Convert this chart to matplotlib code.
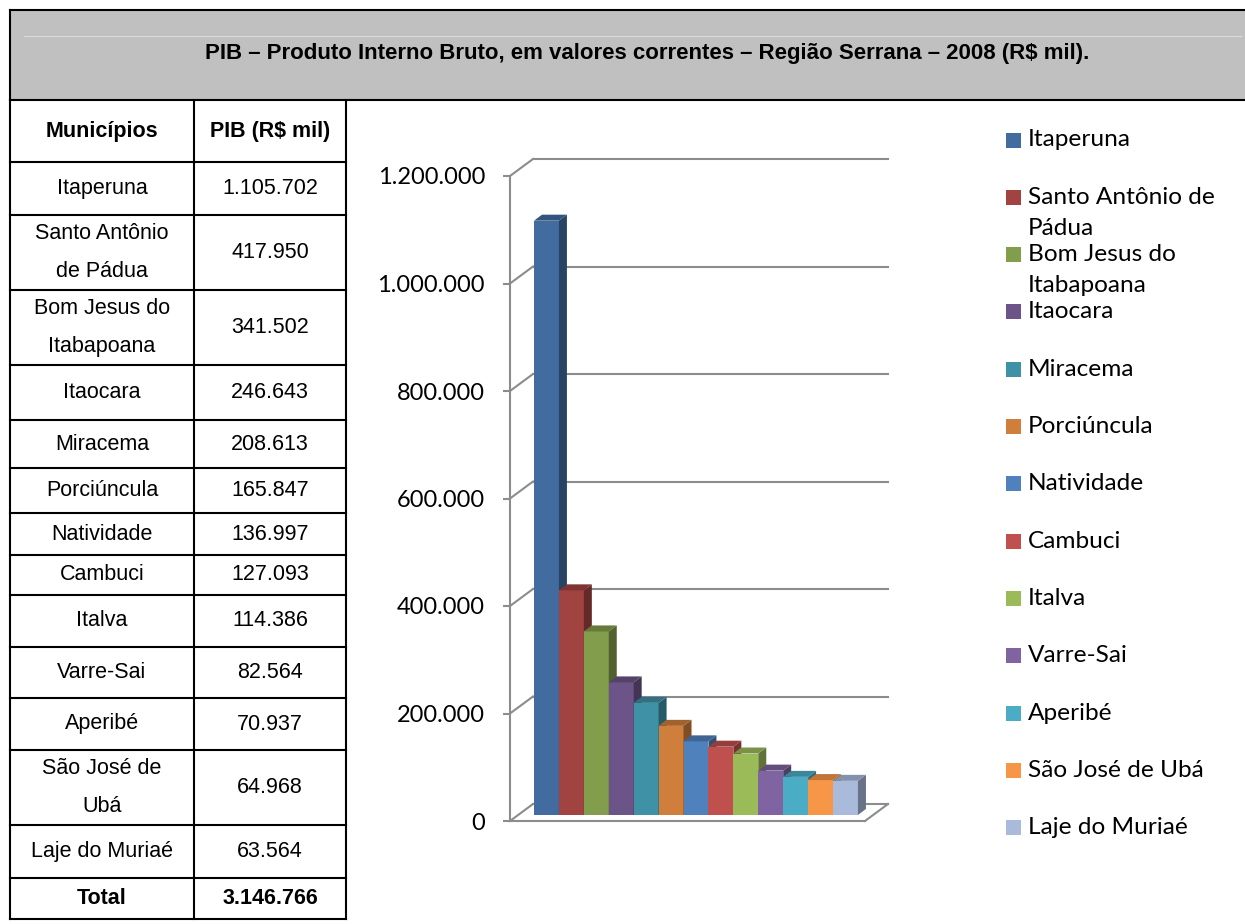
import textwrap

import matplotlib
matplotlib.use("Agg")
import matplotlib.pyplot as plt
import matplotlib.transforms as mtransforms
from matplotlib.lines import Line2D
from matplotlib.patches import Polygon, Rectangle
from matplotlib.ticker import FuncFormatter
from matplotlib.colors import to_rgb

# ---------------------------------------------------------------- data
municipios = [
    "Itaperuna", "Santo Antônio de Pádua", "Bom Jesus do Itabapoana",
    "Itaocara", "Miracema", "Porciúncula", "Natividade", "Cambuci",
    "Italva", "Varre-Sai", "Aperibé", "São José de Ubá", "Laje do Muriaé",
]
pib_mil = [
    1105702, 417950, 341502, 246643, 208613, 165847, 136997,
    127093, 114386, 82564, 70937, 64968, 63564,
]
y_ticks = [0, 200000, 400000, 600000, 800000, 1000000, 1200000]
bar_colors = [
    "#426C9F", "#A14341", "#829D4B", "#6C5488", "#3F91A6", "#CF7E3B",
    "#4F81BD", "#C0504D", "#9BBB59", "#8064A2", "#4BACC6", "#F79646",
    "#A9BADB",
]
title = "PIB – Produto Interno Bruto, em valores correntes – Região Serrana – 2008 (R$ mil)."
col_headers = ["Municípios", "PIB (R$ mil)"]


def fmt_br(v):
    return f"{int(round(v)):,}".replace(",", ".")


# ---------------------------------------------------------------- figure
W, H = 1245, 924
fig = plt.figure(figsize=(W / 100, H / 100), dpi=100)
fig.patch.set_facecolor("white")

# pixel coordinates measured from the top-left corner
pix = mtransforms.Affine2D().scale(1 / W, -1 / H).translate(0, 1) + fig.transFigure

TABLE_FONT = ["Liberation Sans", "DejaVu Sans"]
CHART_FONT = ["Lato", "DejaVu Sans"]


def hline(y, x0, x1, lw=1.5, color="black"):
    fig.add_artist(Line2D([x0, x1], [y, y], transform=pix, lw=lw, color=color))


def vline(x, y0, y1, lw=1.5, color="black"):
    fig.add_artist(Line2D([x, x], [y0, y1], transform=pix, lw=lw, color=color))


# title band
fig.add_artist(Rectangle((10, 10), W - 10, 90, transform=pix,
                         facecolor="#C0C0C0", edgecolor="none"))
hline(36, 24, W - 4, lw=0.8, color="#DCDCDC")
hline(10, 10, W)
hline(100, 10, W)
vline(10, 10, 100)
fig.text(647, 53, title, transform=pix, ha="center", va="center",
         fontsize=16, fontweight="bold", family=TABLE_FONT)

# ---------------------------------------------------------------- table
col_x = [10, 194, 346]
row_y = [100, 162, 215, 290, 365, 420, 468, 513, 555, 595, 647, 698,
         750, 825, 878, 919]
for x in col_x:
    vline(x, 100, row_y[-1])
for y in row_y[1:]:
    hline(y, col_x[0], col_x[-1])

c1 = (col_x[0] + col_x[1]) / 2
c2 = (col_x[1] + col_x[2]) / 2
TFS = 15.5
LINE_GAP = 38


def cell_text(xc, y0, y1, s, bold=False):
    lines = textwrap.wrap(s, 14) or [s]
    yc = (y0 + y1) / 2
    start = yc - LINE_GAP * (len(lines) - 1) / 2
    for k, ln in enumerate(lines):
        fig.text(xc, start + k * LINE_GAP, ln, transform=pix, ha="center",
                 va="center", fontsize=TFS, family=TABLE_FONT,
                 fontweight="bold" if bold else "normal")


cell_text(c1, row_y[0], row_y[1], col_headers[0], bold=True)
cell_text(c2, row_y[0], row_y[1], col_headers[1], bold=True)
for i, (name, val) in enumerate(zip(municipios, pib_mil)):
    cell_text(c1, row_y[i + 1], row_y[i + 2], name)
    cell_text(c2, row_y[i + 1], row_y[i + 2], fmt_br(val))
cell_text(c1, row_y[-2], row_y[-1], "Total", bold=True)
cell_text(c2, row_y[-2], row_y[-1], fmt_br(sum(pib_mil)), bold=True)

# ---------------------------------------------------------------- 3-D column chart
AX_L, AX_R, AX_B, AX_T = 510, 865, 821, 176   # front plane of the plot, in pixels
ax = fig.add_axes([AX_L / W, 1 - AX_B / H, (AX_R - AX_L) / W, (AX_B - AX_T) / H])
x0, x1 = -1.142, 13.104
ax.set_xlim(x0, x1)
ax.set_ylim(y_ticks[0], y_ticks[-1])
ax.set_facecolor("none")

ppx = (AX_R - AX_L) / (x1 - x0)
ppy = (AX_B - AX_T) / (y_ticks[-1] - y_ticks[0])

GRID = "#8C8C8C"
wall_dx, wall_dy = 23 / ppx, 17 / ppy   # front plane -> back wall
bar_dx, bar_dy = 8 / ppx, 6 / ppy       # front plane -> bar faces
dep_dx, dep_dy = 8 / ppx, 6 / ppy       # bar depth

# back wall gridlines and side-wall edges
for v in y_ticks:
    ax.plot([x0 + wall_dx, x1 + wall_dx], [v + wall_dy, v + wall_dy],
            color=GRID, lw=1.5, clip_on=False, zorder=1)
    ax.plot([x0, x0 + wall_dx], [v, v + wall_dy],
            color=GRID, lw=1.5, clip_on=False, zorder=1)
ax.plot([x1, x1 + wall_dx], [0, wall_dy], color=GRID, lw=1.5,
        clip_on=False, zorder=1)


def shade(c, f):
    r, g, b = to_rgb(c)
    return (r * f, g * f, b * f)


xs = list(range(len(pib_mil)))
for i, (xi, v, c) in enumerate(zip(xs, pib_mil, bar_colors)):
    z = 3 + i * 0.01
    left = xi - 0.5 + bar_dx
    right = xi + 0.5 + bar_dx
    base = bar_dy
    top = bar_dy + v
    ax.bar(xi + bar_dx, v, width=1.0, bottom=base, color=c, linewidth=0,
           zorder=z)
    ax.add_patch(Polygon([(right, base), (right + dep_dx, base + dep_dy),
                          (right + dep_dx, top + dep_dy), (right, top)],
                         closed=True, facecolor=shade(c, 0.62),
                         edgecolor="none", zorder=z, clip_on=False))
    ax.add_patch(Polygon([(left, top), (right, top),
                          (right + dep_dx, top + dep_dy),
                          (left + dep_dx, top + dep_dy)],
                         closed=True, facecolor=shade(c, 0.78),
                         edgecolor="none", zorder=z, clip_on=False))

for side in ("top", "right"):
    ax.spines[side].set_visible(False)
for side in ("left", "bottom"):
    ax.spines[side].set_color(GRID)
    ax.spines[side].set_linewidth(1.5)
    ax.spines[side].set_zorder(10)
ax.set_xticks([])
ax.set_yticks(y_ticks)
ax.yaxis.set_major_formatter(FuncFormatter(lambda v, p: fmt_br(v)))
ax.tick_params(axis="y", direction="out", length=5, width=1.5, color=GRID,
               pad=13, labelsize=17)
for lab in ax.get_yticklabels():
    lab.set_family(CHART_FONT)
    lab.set_y(lab.get_position()[1])

# ---------------------------------------------------------------- legend
LEG_X, LEG_Y0, LEG_STEP = 1006, 140, 57.3
for k, (name, c) in enumerate(zip(municipios, bar_colors)):
    yc = LEG_Y0 + k * LEG_STEP
    fig.add_artist(Rectangle((LEG_X, yc - 7.5), 15, 15, transform=pix,
                             facecolor=c, edgecolor="none"))
    for j, ln in enumerate(textwrap.wrap(name, 16)):
        fig.text(LEG_X + 22, yc + j * 31, ln, transform=pix, ha="left",
                 va="center", fontsize=17.6, family=CHART_FONT)

fig.savefig("out.png", dpi=100)
